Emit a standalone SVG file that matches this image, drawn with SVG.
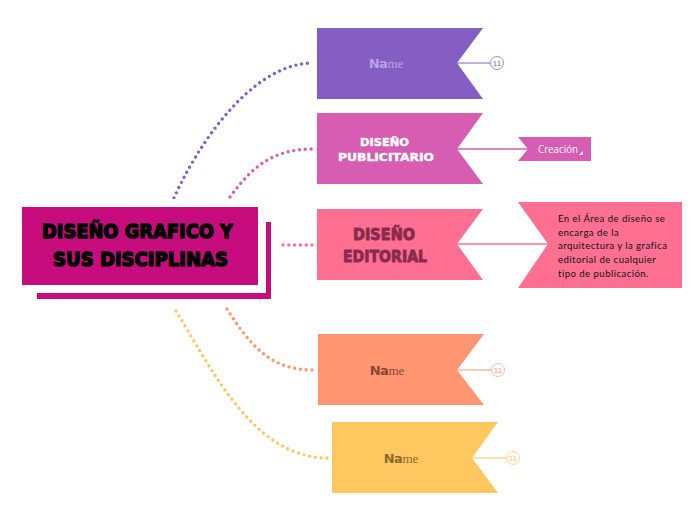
<svg xmlns="http://www.w3.org/2000/svg" width="696" height="520" viewBox="0 0 696 520">
<style>
.dot{fill:none;stroke-width:3.4;stroke-linecap:round;stroke-dasharray:0 5.8}
.nm{font-size:13px;text-anchor:middle}
.na{font-family:"DejaVu Sans",sans-serif;font-weight:bold;letter-spacing:-0.5px}
.me{font-family:"Liberation Serif",serif}
.cnt{font-family:"Liberation Sans",sans-serif;font-size:8px;text-anchor:middle}
.desc{font-family:Lato,"Liberation Sans",sans-serif;font-size:9.6px;fill:#111;letter-spacing:0.45px}
</style>
<rect width="696" height="520" fill="#fff"/>
<g id="connectors">
<path class="dot" stroke="#845EC2" d="M174,198 C195,150 250,63 313,63"/>
<path class="dot" stroke="#D65DB1" d="M230,197 C250,170 270,149 313,149"/>
<path class="dot" stroke="#FF6F91" d="M283,245 L313,245"/>
<path class="dot" stroke="#FF9671" d="M227,309 C250,345 270,370 313,370"/>
<path class="dot" stroke="#FFC75F" d="M176,311 C215,375 255,458 328,458"/>
</g>
<g id="central">
<rect x="37" y="222" width="234" height="77" fill="#C70D7E"/>
<rect x="14" y="199" width="252" height="94" fill="#fff"/>
<rect x="22" y="207" width="236" height="78" fill="#C70D7E"/>
<g font-family="'DejaVu Sans',sans-serif" font-weight="bold" font-size="20" fill="#000" stroke="#000" stroke-width="1.5" stroke-linejoin="round">
<text x="42" y="238" textLength="191" lengthAdjust="spacingAndGlyphs">DISEÑO GRAFICO Y</text>
<text x="53" y="266" textLength="175" lengthAdjust="spacingAndGlyphs">SUS DISCIPLINAS</text>
</g>
</g>
<g id="node-name-purple">
<polygon points="317,28 483,28 457,63 483,99 317,99" fill="#845EC2"/>
<text class="nm" x="386" y="68" fill="#B9A2E6"><tspan class="na">Na</tspan><tspan class="me">me</tspan></text>
<line x1="457" y1="63" x2="490" y2="63" stroke="#845EC2" stroke-width="1.2"/>
<circle cx="497" cy="63" r="6.5" fill="#fff" stroke="#A88BD8" stroke-width="1"/>
<text class="cnt" x="497" y="66" fill="#845EC2">11</text>
</g>
<g id="node-publicitario">
<polygon points="317,113 483,113 457,149 483,184 317,184" fill="#D65DB1"/>
<g font-family="'DejaVu Sans',sans-serif" font-weight="bold" font-size="11" fill="#fff" stroke="#fff" stroke-width="0.4">
<text x="360" y="146" textLength="49" lengthAdjust="spacingAndGlyphs">DISEÑO</text>
<text x="338" y="161" textLength="96" lengthAdjust="spacingAndGlyphs">PUBLICITARIO</text>
</g>
<line x1="457" y1="149" x2="528" y2="149" stroke="#D65DB1" stroke-width="1.5"/>
</g>
<g id="node-creacion">
<polygon points="518,137 591,137 591,161 518,161 528,149" fill="#D65DB1"/>
<text x="538" y="153" font-family="'Open Sans','Liberation Sans',sans-serif" font-size="10" fill="#fff" textLength="40" lengthAdjust="spacingAndGlyphs">Creación</text>
<polygon points="583,151 583,155 579,155" fill="#fff"/>
</g>
<g id="node-editorial">
<polygon points="317,209 483,209 457,244 483,280 317,280" fill="#FF6F91"/>
<g font-family="'DejaVu Sans',sans-serif" font-weight="bold" font-size="15" fill="#8A2B4C" stroke="#8A2B4C" stroke-width="0.9" stroke-linejoin="round">
<text x="353" y="240" textLength="62" lengthAdjust="spacingAndGlyphs">DISEÑO</text>
<text x="343" y="262" textLength="84" lengthAdjust="spacingAndGlyphs">EDITORIAL</text>
</g>
<line x1="457" y1="244" x2="548" y2="244" stroke="#FF6F91" stroke-width="1.5"/>
</g>
<g id="node-descripcion">
<polygon points="518,202 682,202 682,288 518,288 548,244" fill="#FF6F91"/>
<text class="desc" x="558" y="222">En el Área de diseño se</text>
<text class="desc" x="558" y="236">encarga de la</text>
<text class="desc" x="558" y="249">arquitectura y la grafica</text>
<text class="desc" x="558" y="263">editorial de cualquier</text>
<text class="desc" x="558" y="277">tipo de publicación.</text>
</g>
<g id="node-name-orange">
<polygon points="318,334 484,334 457,370 484,405 318,405" fill="#FF9671"/>
<text class="nm" x="387" y="375" fill="#8A4632"><tspan class="na">Na</tspan><tspan class="me">me</tspan></text>
<line x1="457" y1="370" x2="491" y2="370" stroke="#FF9671" stroke-width="1.2"/>
<circle cx="498" cy="370" r="6.5" fill="#fff" stroke="#FFB89E" stroke-width="1"/>
<text class="cnt" x="498" y="373" fill="#FF9671">11</text>
</g>
<g id="node-name-yellow">
<polygon points="332,422 498,422 472,458 498,493 332,493" fill="#FFC75F"/>
<text class="nm" x="401" y="463" fill="#8A6A2E"><tspan class="na">Na</tspan><tspan class="me">me</tspan></text>
<line x1="472" y1="458" x2="506" y2="458" stroke="#FFC75F" stroke-width="1.2"/>
<circle cx="513" cy="458" r="6.5" fill="#fff" stroke="#FFD98F" stroke-width="1"/>
<text class="cnt" x="513" y="461" fill="#FFC75F">11</text>
</g>
</svg>
